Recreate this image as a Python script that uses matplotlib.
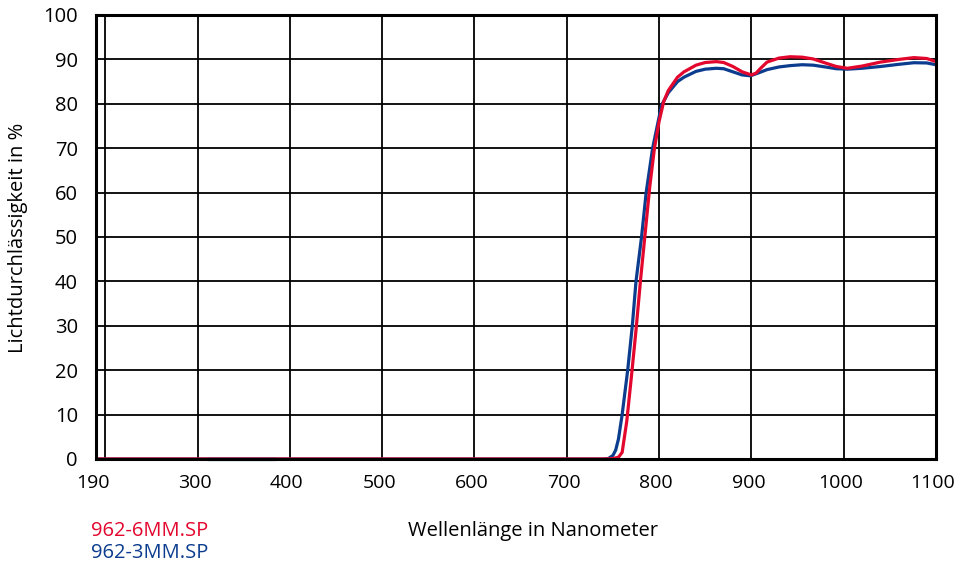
import numpy as np
import matplotlib
matplotlib.use('Agg')
import matplotlib.pyplot as plt
import matplotlib.transforms as mtransforms

wl_6mm = [190, 300, 400, 500, 600, 700, 740, 750, 756, 760, 765, 770, 775, 780,
          785, 790, 795, 800, 805, 810, 820, 827, 840, 850, 862, 870, 880, 890,
          900, 905, 910, 917, 930, 942, 955, 967, 980, 992, 1004, 1020, 1040,
          1060, 1076, 1090, 1100]
t_6mm = [0, 0, 0, 0, 0, 0, 0, 0.1, 0.4, 1.5, 8.5, 18.5, 29, 40.5,
         51, 61.5, 70, 76, 80.5, 83, 86, 87.2, 88.7, 89.3, 89.5, 89.3, 88.4, 87.2,
         86.5, 86.9, 88.0, 89.4, 90.3, 90.6, 90.5, 90.1, 89.2, 88.4, 88.0, 88.5, 89.4,
         90.0, 90.4, 90.2, 89.5]

wl_3mm = [190, 310, 385, 500, 600, 700, 740, 745, 750, 753, 756, 760, 766, 771,
          775, 781, 786, 793, 800, 803, 810, 820, 827, 840, 850, 862, 870, 880,
          890, 899, 907, 917, 930, 942, 955, 967, 980, 992, 1004, 1020, 1040,
          1060, 1076, 1090, 1100]
t_3mm = [0, 0, 0, 0, 0, 0, 0, 0.1, 0.8, 2, 4.5, 10, 20, 30,
         40, 50, 60, 70, 77, 79.8, 82.5, 85, 86, 87.3, 87.8, 88.0, 87.9, 87.2,
         86.5, 86.3, 86.9, 87.7, 88.3, 88.6, 88.8, 88.7, 88.3, 87.9, 87.8, 88.0, 88.4,
         88.9, 89.25, 89.2, 88.8]

x_ticks = [190, 300, 400, 500, 600, 700, 800, 900, 1000, 1100]
y_ticks = list(range(0, 101, 10))

red = '#e3062d'
blue = '#0b3c8e'
fs = 14.5

plt.rcParams['font.family'] = ['Open Sans', 'DejaVu Sans']

fig = plt.figure(figsize=(9.57, 5.70), dpi=100)
ax = fig.add_axes([96 / 957, 1 - 459 / 570, 840 / 957, 444 / 570])

ax.plot(wl_3mm, t_3mm, color=blue, lw=2.3, clip_on=False, zorder=3,
        solid_joinstyle='round', solid_capstyle='butt')
ax.plot(wl_6mm, t_6mm, color=red, lw=2.3, clip_on=False, zorder=4,
        solid_joinstyle='round', solid_capstyle='butt')
# kurzes Stück bei 0 %, wo die blaue Kurve oben liegt
ax.plot(wl_3mm[1:3], t_3mm[1:3], color=blue, lw=2.3, clip_on=False, zorder=5,
        solid_capstyle='butt')

ax.set_xlim(190, 1100)
ax.set_ylim(0, 100)
ax.set_xticks(x_ticks)
ax.set_xticks([200], minor=True)
ax.set_yticks(y_ticks)
ax.grid(True, which='both', color='black', lw=1.3, zorder=1)
ax.tick_params(axis='both', which='both', length=0, labelsize=fs)
ax.tick_params(axis='x', pad=11, labelsize=14)
ax.tick_params(axis='y', pad=13)
for s in ax.spines.values():
    s.set_linewidth(2.2)
    s.set_zorder(6)

# x-Beschriftung leicht nach links, wie im Original
shift = mtransforms.ScaledTranslation(-3 / 100, 0, fig.dpi_scale_trans)
for lab in ax.get_xticklabels():
    lab.set_transform(lab.get_transform() + shift)

fig.text(533 / 957, 1 - 531 / 570, 'Wellenlänge in Nanometer', ha='center',
         va='center', fontsize=fs)
fig.text(18 / 957, 1 - 238 / 570, 'Lichtdurchlässigkeit in %', ha='center',
         va='center', rotation=90, fontsize=fs)
fig.text(91 / 957, 1 - 531 / 570, '962-6MM.SP', color=red, ha='left',
         va='center', fontsize=fs)
fig.text(91 / 957, 1 - 553 / 570, '962-3MM.SP', color=blue, ha='left',
         va='center', fontsize=fs)

fig.savefig('out.png', dpi=100)
